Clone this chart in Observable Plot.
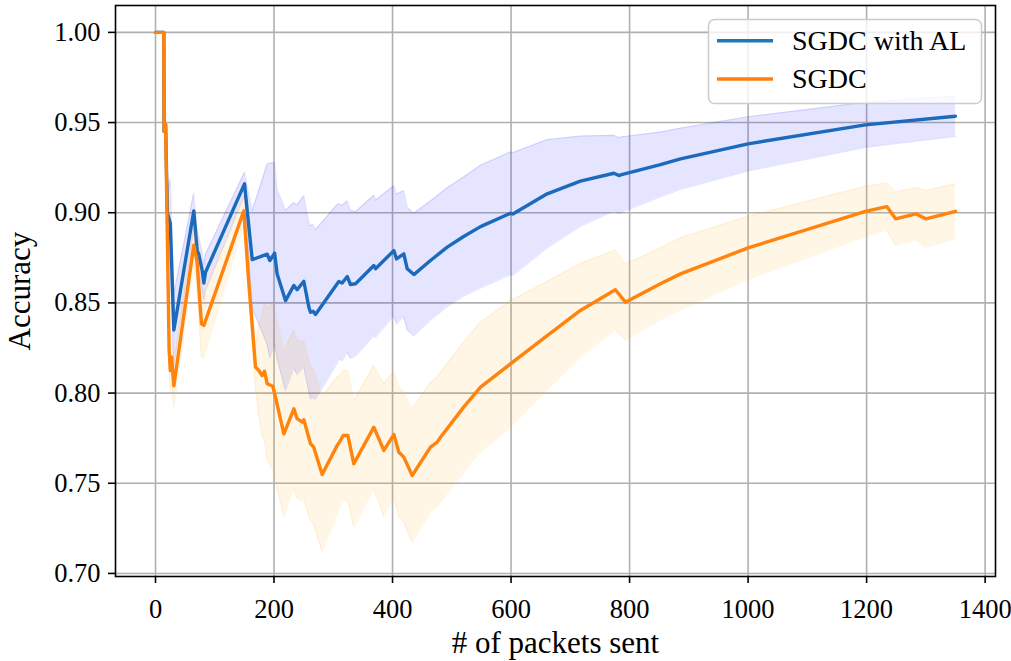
<!DOCTYPE html>
<html>
<head>
<meta charset="utf-8">
<script src="https://cdn.jsdelivr.net/npm/d3@7"></script>
<script src="https://cdn.jsdelivr.net/npm/@observablehq/plot@0.6"></script>
<style>
  html, body { margin: 0; padding: 0; background: #ffffff; }
  #chart { width: 1011px; height: 661px; }
</style>
</head>
<body>
<div id="chart"></div>
<script>
// ---- data ----
const seriesNames = ["SGDC with AL", "SGDC"];
const xTicks = [0, 200, 400, 600, 800, 1000, 1200, 1400];
const yTicks = [0.70, 0.75, 0.80, 0.85, 0.90, 0.95, 1.00];
const xLabel = "# of packets sent";
const yLabel = "Accuracy";

// SGDC with AL: mean accuracy and band half-width
const alX = [0, 14, 14.5, 17, 20, 25, 31, 64.6, 67.5, 70.4, 73, 78.8, 81.6, 84.4, 150.2, 163.2, 188.5, 193, 201, 205.3, 219.4, 233.5, 239, 250.3, 258.8, 261.6, 266, 270, 306.6, 309.4, 315, 323.6, 329, 337.6, 368.4, 371.3, 402.2, 406.8, 419, 424.8, 436, 464, 492.3, 520, 548.5, 599, 603, 661, 717, 773.5, 782, 785, 852, 886, 1000, 1198, 1350];
const alY = [1.0, 1.0, 0.945, 0.949, 0.900, 0.894, 0.835, 0.901, 0.890, 0.879, 0.877, 0.868, 0.861, 0.867, 0.916, 0.874, 0.877, 0.8735, 0.8776, 0.866, 0.8513, 0.8597, 0.8573, 0.862, 0.8476, 0.8448, 0.8454, 0.8436, 0.8606, 0.8619, 0.861, 0.8646, 0.8602, 0.8606, 0.8707, 0.8689, 0.879, 0.8744, 0.8772, 0.8689, 0.8657, 0.8735, 0.8809, 0.8868, 0.8923, 0.8997, 0.8993, 0.9105, 0.9175, 0.9219, 0.9206, 0.921, 0.9267, 0.9299, 0.9382, 0.9487, 0.9535];
const alSd = [0, 0, 0, 0, 0.01, 0.025, 0.02, 0.01, 0.01, 0.01, 0.01, 0.01, 0.01, 0.01, 0.0065, 0.027, 0.05, 0.054, 0.05, 0.047, 0.05, 0.046, 0.047, 0.0475, 0.047, 0.048, 0.048, 0.047, 0.044, 0.043, 0.043, 0.042, 0.041, 0.04, 0.039, 0.038, 0.036, 0.036, 0.035, 0.034, 0.034, 0.033, 0.033, 0.033, 0.034, 0.034, 0.034, 0.03, 0.025, 0.021, 0.021, 0.021, 0.018, 0.017, 0.015, 0.0125, 0.0112];

// SGDC: mean accuracy and band half-width
const sgX = [0, 14, 14.5, 17, 23, 25, 27, 31, 64.6, 67.5, 70, 73, 77.6, 81.6, 149, 157.5, 168.8, 174.4, 180, 184, 188.5, 198, 202.5, 216.6, 233.5, 239, 247.6, 250.3, 261.6, 267, 281.3, 306.6, 309.4, 316.7, 324.6, 334.7, 368.4, 385.3, 402.2, 410.7, 419, 433.2, 464, 475.4, 481, 520, 548.5, 599, 661, 717, 776, 793, 852, 886, 1000, 1198, 1234, 1249, 1283, 1300, 1350];
const sgY = [1.0, 1.0, 0.945, 0.949, 0.824, 0.8125, 0.82, 0.804, 0.882, 0.877, 0.8735, 0.859, 0.8384, 0.8375, 0.901, 0.861, 0.8144, 0.8125, 0.8097, 0.8121, 0.8052, 0.8038, 0.7977, 0.7774, 0.7913, 0.7858, 0.7839, 0.7852, 0.7719, 0.770, 0.7549, 0.771, 0.7722, 0.7765, 0.7765, 0.7608, 0.7811, 0.7682, 0.777, 0.7672, 0.7645, 0.7543, 0.770, 0.7728, 0.7755, 0.7922, 0.8033, 0.8162, 0.8319, 0.8458, 0.8573, 0.8504, 0.8606, 0.8661, 0.8805, 0.9007, 0.9034, 0.8966, 0.8994, 0.8966, 0.9008];
const sgSd = [0, 0, 0, 0, 0.01, 0.012, 0.012, 0.012, 0.01, 0.012, 0.014, 0.016, 0.018, 0.018, 0.008, 0.01, 0.012, 0.025, 0.034, 0.038, 0.042, 0.046, 0.047, 0.046, 0.044, 0.044, 0.044, 0.044, 0.043, 0.043, 0.043, 0.038, 0.037, 0.036, 0.036, 0.035, 0.034, 0.037, 0.035, 0.036, 0.036, 0.037, 0.036, 0.036, 0.036, 0.036, 0.036, 0.035, 0.03, 0.026, 0.022, 0.021, 0.02, 0.02, 0.0175, 0.014, 0.013, 0.0148, 0.0145, 0.0157, 0.0152];

const lineColors = ["#1f77b4", "#ff7f0e"];
const bandColors = ["blue", "orange"];

// ---- build tables ----
const al = alX.map((x, i) => ({x, y: alY[i], lo: alY[i] - alSd[i], hi: alY[i] + alSd[i]}));
const sg = sgX.map((x, i) => ({x, y: sgY[i], lo: sgY[i] - sgSd[i], hi: sgY[i] + sgSd[i]}));

const FONT = "'Liberation Serif', 'DejaVu Serif', serif";

function seriesMarks(data, k) {
  return [
    Plot.line(data, {x: "x", y: "y", stroke: lineColors[k], strokeWidth: 3.4, strokeLinejoin: "round"}),
    Plot.areaY(data, {x: "x", y1: "lo", y2: "hi", fill: bandColors[k], fillOpacity: 0.1}),
    Plot.line(data, {x: "x", y: "lo", stroke: bandColors[k], strokeOpacity: 0.1, strokeWidth: 1.2}),
    Plot.line(data, {x: "x", y: "hi", stroke: bandColors[k], strokeOpacity: 0.1, strokeWidth: 1.2})
  ];
}

const svg = Plot.plot({
  width: 1011,
  height: 661,
  marginLeft: 115,
  marginRight: 16,
  marginTop: 5,
  marginBottom: 85,
  style: {fontFamily: FONT, fontSize: "26px", color: "black", background: "white", overflow: "visible"},
  x: {domain: [-67.5, 1417.5], label: null},
  y: {domain: [0.6983, 1.0149], label: null},
  marks: [
    Plot.gridX(xTicks, {stroke: "#b0b0b0", strokeOpacity: 1, strokeWidth: 1.6}),
    Plot.gridY(yTicks, {stroke: "#b0b0b0", strokeOpacity: 1, strokeWidth: 1.6}),
    ...seriesMarks(al, 0),
    ...seriesMarks(sg, 1),
    Plot.frame({stroke: "black", strokeWidth: 1.6}),
    Plot.axisX({ticks: xTicks, tickFormat: d => String(d), tickSize: 7, tickPadding: 16, strokeWidth: 1.6, fontSize: 26.5, label: null}),
    Plot.axisY({ticks: yTicks, tickFormat: d3.format(".2f"), tickSize: 7, tickPadding: 8, strokeWidth: 1.6, fontSize: 26.5, label: null}),
    Plot.text([xLabel], {frameAnchor: "bottom", dy: 67, fontSize: 31, lineAnchor: "middle", textAnchor: "middle"}),
    Plot.text([yLabel], {frameAnchor: "left", dx: -95, rotate: -90, fontSize: 31, lineAnchor: "middle", textAnchor: "middle"})
  ]
});

// ---- legend (upper right, inside the frame) ----
const lg = d3.select(svg).append("g")
  .attr("font-family", FONT).attr("font-size", 28).attr("text-anchor", "start");
lg.append("rect")
  .attr("x", 708.5).attr("y", 19.5).attr("width", 273).attr("height", 84)
  .attr("rx", 6).attr("ry", 6)
  .attr("fill", "white").attr("fill-opacity", 0.8)
  .attr("stroke", "#cccccc").attr("stroke-width", 1.5);
seriesNames.forEach((name, i) => {
  const cy = 40.7 + i * 38.3;
  lg.append("line").attr("x1", 717).attr("x2", 773).attr("y1", cy).attr("y2", cy)
    .attr("stroke", lineColors[i]).attr("stroke-width", 3.4);
  lg.append("text").attr("x", 792).attr("y", cy).attr("dy", "0.33em")
    .attr("text-anchor", "start").attr("fill", "black").text(name);
});

document.getElementById("chart").appendChild(svg);
</script>
</body>
</html>
